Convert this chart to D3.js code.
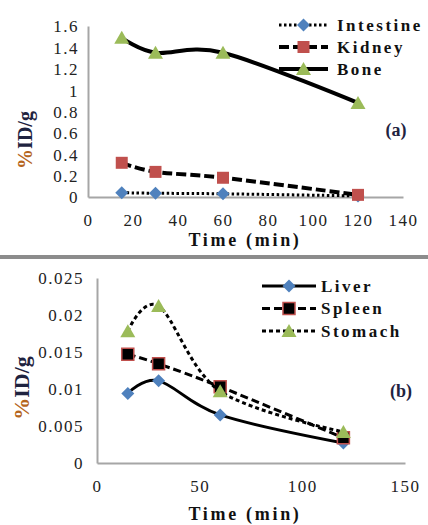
<!DOCTYPE html>
<html>
<head>
<meta charset="utf-8">
<script src="https://cdn.jsdelivr.net/npm/d3@7"></script>
</head>
<body style="margin:0; background:#fff">
<div id="container"></div>
<script>
/* DATA */
const times = [15, 30, 60, 120];
// panel (a)
const intestine = [0.04, 0.035, 0.03, 0.01];
const kidney = [0.32, 0.235, 0.18, 0.02];
const bone = [1.49, 1.35, 1.35, 0.88];
// panel (b)
const liver = [0.0094, 0.0111, 0.0065, 0.0027];
const spleen = [0.0147, 0.0134, 0.0103, 0.0034];
const stomach = [0.0178, 0.0212, 0.0097, 0.0042];

const xTicksA = [0, 20, 40, 60, 80, 100, 120, 140];
const yTicksA = [0, 0.2, 0.4, 0.6, 0.8, 1, 1.2, 1.4, 1.6];
const xTicksB = [0, 50, 100, 150];
const yTicksB = [0, 0.005, 0.01, 0.015, 0.02, 0.025];

const width = 428, height = 525;
const blue = "#4f81bd", red = "#c0504d", green = "#9bbb59";
const serif = '"Liberation Serif", "Times New Roman", Times';

const svg = d3.select("#container").append("svg")
  .attr("width", width).attr("height", height);

const line = (x, y) => d3.line()
  .x(d => x(d[0])).y(d => y(d[1]))
  .curve(d3.curveCardinal.tension(0));

// excel-like markers
function marker(g, type, x, y, fill, stroke) {
  let d;
  if (type === "diamond") d = "M0,-6.5L6.5,0L0,6.5L-6.5,0Z";
  else if (type === "square") d = "M-6,-6H6V6H-6Z";
  else d = "M0,-7L7.5,6H-7.5Z";
  g.append("path")
    .attr("d", d)
    .attr("transform", `translate(${x},${y})`)
    .attr("fill", fill)
    .attr("stroke", stroke || "none")
    .attr("stroke-width", stroke ? 1.5 : 0);
}

function panel(cfg) {
  const g = svg.append("g");
  const x = d3.scaleLinear().domain(cfg.xDomain).range(cfg.xRange);
  const y = d3.scaleLinear().domain(cfg.yDomain).range(cfg.yRange);

  const xAxis = g.append("g")
    .attr("transform", `translate(0,${cfg.yRange[0]})`)
    .call(d3.axisBottom(x).tickValues(cfg.xTicks).tickSize(0).tickPadding(17));
  const yAxis = g.append("g")
    .attr("transform", `translate(${cfg.xRange[0]},0)`)
    .call(d3.axisLeft(y).tickValues(cfg.yTicks).tickSize(0).tickPadding(cfg.yPad)
      .tickFormat(d => d === 0 ? "0" : String(+d.toFixed(4))));
  [xAxis, yAxis].forEach(a => {
    a.attr("font-family", "Liberation Serif").attr("font-size", 17);
    a.select(".domain").attr("stroke", "#a6a6a6").attr("stroke-width", 2);
    a.selectAll("text")
      .style("font-family", serif).style("font-size", "17px")
      .style("letter-spacing", "1.5px").attr("fill", "#222");
  });
  yAxis.selectAll("text").attr("dy", "0.35em");

  cfg.series.forEach(s => {
    const pts = times.map((t, i) => [t, s.values[i]]);
    g.append("path")
      .attr("d", line(x, y)(pts))
      .attr("fill", "none").attr("stroke", "#000")
      .attr("stroke-width", s.width)
      .attr("stroke-dasharray", s.dash);
    pts.forEach(p => marker(g, s.marker, x(p[0]), y(p[1]), s.fill, s.stroke));
  });

  // legend
  cfg.series.forEach((s, i) => {
    const ly = cfg.legend.y + i * cfg.legend.step;
    g.append("line")
      .attr("x1", cfg.legend.x1).attr("x2", cfg.legend.x2)
      .attr("y1", ly).attr("y2", ly)
      .attr("stroke", "#000").attr("stroke-width", s.width)
      .attr("stroke-dasharray", s.dash);
    marker(g, s.marker, (cfg.legend.x1 + cfg.legend.x2) / 2, ly, s.fill, s.stroke);
    g.append("text")
      .attr("x", cfg.legend.tx).attr("y", ly)
      .attr("dy", "0.35em")
      .style("font-family", serif).style("font-size", "17px").style("font-weight", "bold")
      .style("letter-spacing", "2.5px")
      .attr("fill", "#111")
      .text(s.name);
  });

  g.append("text")
    .attr("x", cfg.tag[0]).attr("y", cfg.tag[1])
    .attr("text-anchor", "middle").attr("dy", "0.35em")
    .style("font-family", serif).style("font-size", "18px").style("font-weight", "bold")
    .attr("fill", "#1f2340")
    .text(cfg.tagText);

  g.append("text")
    .attr("x", cfg.xLabel[0]).attr("y", cfg.xLabel[1])
    .attr("text-anchor", "middle")
    .style("font-family", serif).style("font-size", "18px").style("font-weight", "bold")
    .style("letter-spacing", "2.7px").attr("fill", "#111")
    .text("Time (min)");

  const yl = g.append("text")
    .attr("transform", `translate(${cfg.yLabel[0]},${cfg.yLabel[1]}) rotate(-90)`)
    .attr("text-anchor", "middle").attr("dy", "0.35em")
    .style("font-family", serif).style("font-size", cfg.yLabelSize + "px").style("font-weight", "bold");
  yl.append("tspan").attr("fill", "#b5651d").text("%");
  yl.append("tspan").attr("fill", "#1f2340").text("ID/g");
}

panel({
  xDomain: [0, 140], xRange: [88, 403],
  yDomain: [0, 1.6], yRange: [197, 26],
  xTicks: xTicksA, yTicks: yTicksA, yPad: 9,
  series: [
    { name: "Intestine", values: intestine, marker: "diamond", fill: blue, width: 3, dash: "2.5,2.5" },
    { name: "Kidney", values: kidney, marker: "square", fill: red, width: 4, dash: "10,4" },
    { name: "Bone", values: bone, marker: "triangle", fill: green, width: 4, dash: null }
  ],
  legend: { x1: 279, x2: 328, tx: 337, y: 25, step: 22 },
  tag: [396, 130], tagText: "(a)",
  xLabel: [245, 246], yLabel: [25, 140], yLabelSize: 20
});

// separator band
svg.append("rect")
  .attr("x", 0).attr("y", 255).attr("width", width).attr("height", 4)
  .attr("fill", "#8c8c8c");

panel({
  xDomain: [0, 150], xRange: [97, 405],
  yDomain: [0, 0.025], yRange: [463, 278],
  xTicks: xTicksB, yTicks: yTicksB, yPad: 13,
  series: [
    { name: "Liver", values: liver, marker: "diamond", fill: blue, width: 3, dash: null },
    { name: "Spleen", values: spleen, marker: "square", fill: "#000", stroke: red, width: 3, dash: "8,4" },
    { name: "Stomach", values: stomach, marker: "triangle", fill: green, width: 3, dash: "4,3" }
  ],
  legend: { x1: 262, x2: 316, tx: 321, y: 286, step: 22.5 },
  tag: [401, 391], tagText: "(b)",
  xLabel: [245, 520], yLabel: [21, 388], yLabelSize: 22
});
</script>
</body>
</html>
